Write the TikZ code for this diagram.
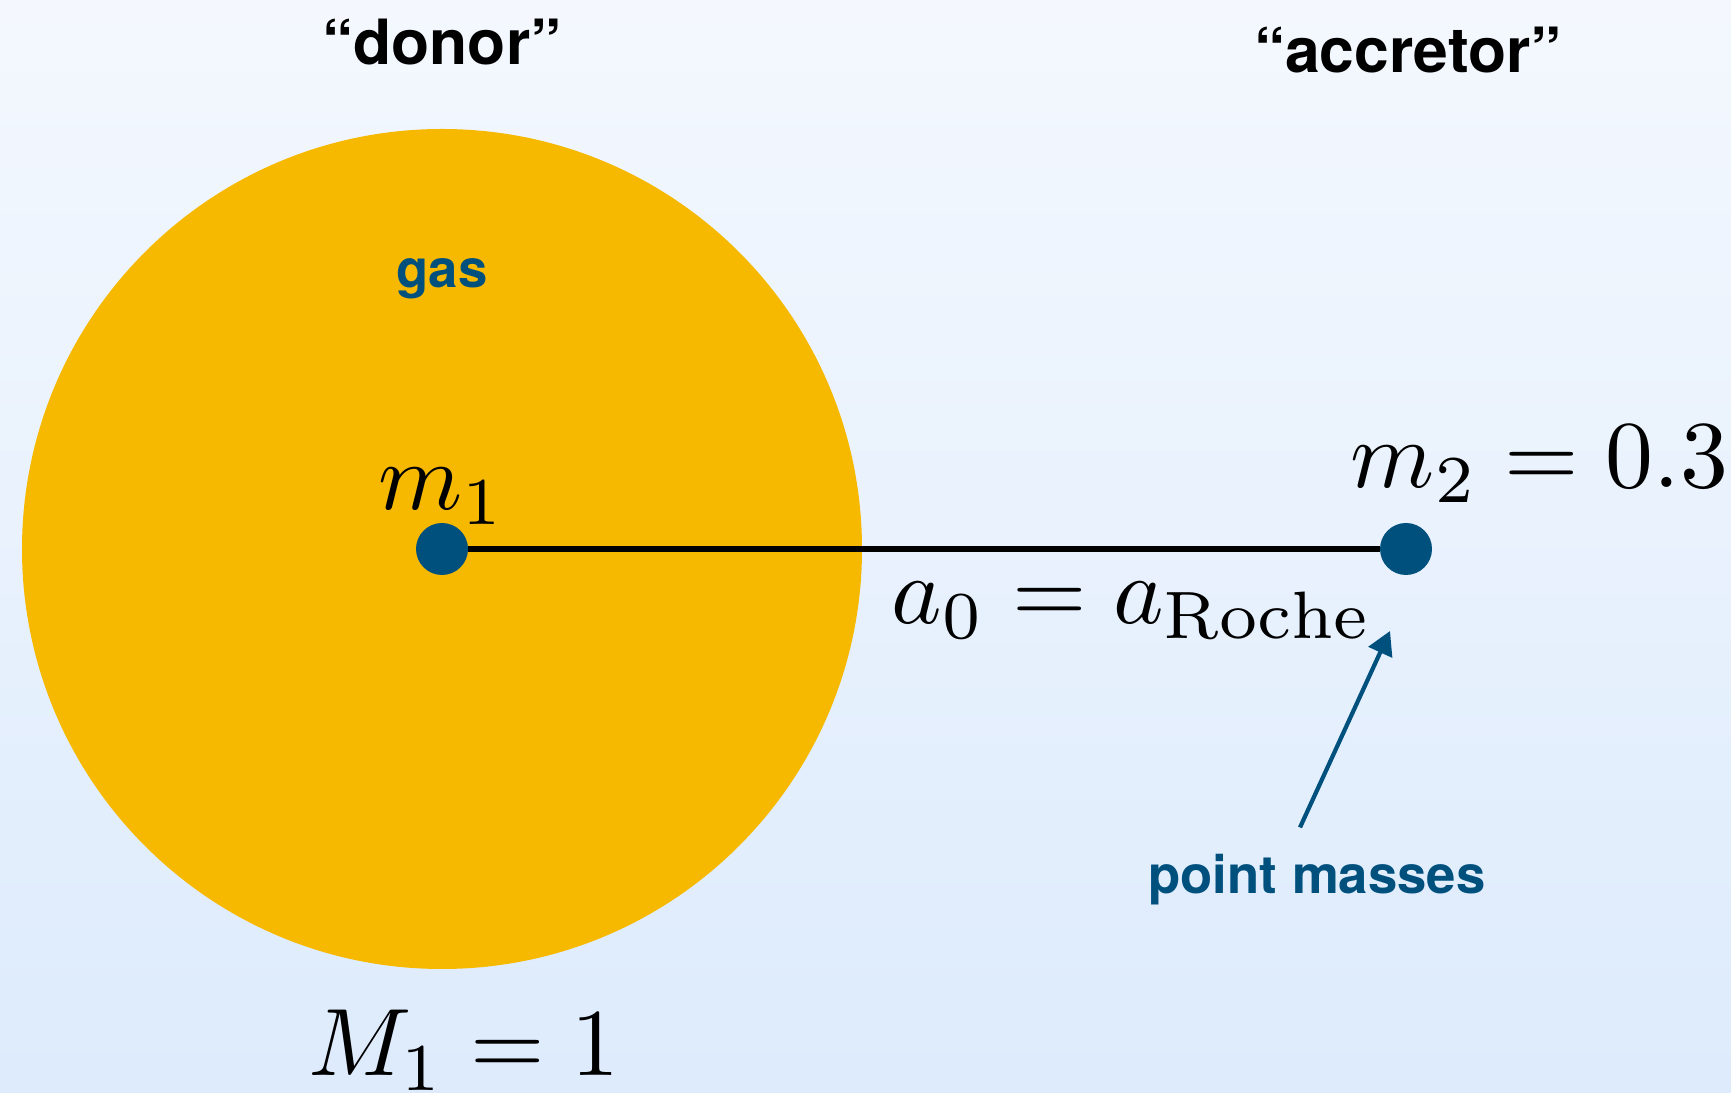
\documentclass[tikz,border=0pt]{standalone}
\usepackage{fontspec}
\usepackage{xcolor}
\usepackage{tikz}
\usetikzlibrary{arrows.meta}
\newfontfamily\heros{TeX Gyre Heros}
\definecolor{RLGold}{HTML}{F6B900}
\definecolor{RLBlue}{HTML}{00507E}
\definecolor{RLSkyTop}{HTML}{F4F8FE}
\definecolor{RLSkyBot}{HTML}{DDEBFC}
\tikzset{
  masspoint/.style={circle,fill=RLBlue,inner sep=0pt,minimum size=1.04cm},
  rolelabel/.style={font=\heros\bfseries\fontsize{35.5}{40}\selectfont},
  bluelabel/.style={text=RLBlue,font=\heros\bfseries\fontsize{30}{34}\selectfont},
  mathlabel/.style={scale=5.45,inner sep=0pt},
  pointer/.style={RLBlue,line width=2.4pt,-{Triangle[length=0.47cm,width=0.51cm]}}
}

\begin{document}
\begin{tikzpicture}[x=1cm,y=1cm]
\shade[top color=RLSkyTop,bottom color=RLSkyBot] (0,0) rectangle (34.62,21.86);
\path[use as bounding box] (0,0) rectangle (34.62,21.86);
\fill[RLGold] (8.84,10.88) circle (8.40);
\node[masspoint] (m1dot) at (8.84,10.88) {};
\node[masspoint] (m2dot) at (28.12,10.88) {};
\draw[line width=2.9pt] (m1dot) -- (m2dot);
\node[rolelabel] (donor) at (8.84,21.02) {“donor”};
\node[rolelabel] (accretor) at (28.16,20.86) {“accretor”};
\node[bluelabel] (gas) at (8.84,16.28) {gas};
\node[mathlabel,anchor=base] (m1lab) at (8.84,11.66) {$m_1$};
\node[mathlabel,anchor=base west] (m2lab) at (26.98,12.10) {$m_2=0.3$};
\node[mathlabel,anchor=base west] (alab) at (17.80,9.38) {$a_0=a_\mathrm{Roche}$};
\node[mathlabel,anchor=base] (M1lab) at (9.28,0.34) {$M_1=1$};
\node[bluelabel] (pm) at (26.34,4.26) {point masses};
\coordinate (tip) at (27.80,9.24);
\draw[pointer] ([xshift=-0.34cm,yshift=0.42cm]pm.north) -- (tip);
\end{tikzpicture}
\end{document}
